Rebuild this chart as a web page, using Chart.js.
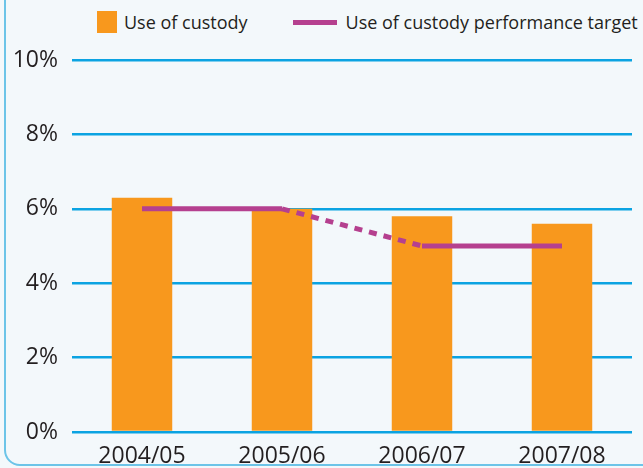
<!DOCTYPE html>
<html>
<head>
<meta charset="utf-8">
<script src="https://cdn.jsdelivr.net/npm/chart.js@4/dist/chart.umd.min.js"></script>
<style>
  html, body { margin: 0; padding: 0; background: #f3f8fb; overflow: hidden; }
  #wrap { position: relative; width: 643px; height: 468px; }
  #frame {
    position: absolute; left: 4px; top: -30px; width: 700px; height: 496px;
    border: 2px solid #6cc4e8; border-radius: 16px; box-sizing: border-box;
  }
  #legend {
    position: absolute; top: 8px; left: 97px; height: 28px;
    font-family: 'Open Sans', sans-serif; font-size: 18px; color: #231f20;
    display: flex; align-items: center; white-space: nowrap;
  }
  .sw-bar  { width: 20px; height: 22px; background: #f8981d; margin-right: 7px; }
  .sw-line { width: 44px; height: 5px; background: #b5408f; margin-left: 45px; margin-right: 9px; }
  canvas { position: absolute; left: 0; top: 0; }
</style>
</head>
<body>
<div id="wrap">
  <div id="frame"></div>
  <div id="legend">
    <span class="sw-bar"></span><span>Use of custody</span>
    <span class="sw-line"></span><span>Use of custody performance target</span>
  </div>
  <canvas id="custodyChart" width="643" height="468"></canvas>
</div>

<script>
// ─── Data ─────────────────────────────────────────────────────────
const YEARS   = ['2004/05', '2005/06', '2006/07', '2007/08'];
const CUSTODY = [6.3, 6.0, 5.8, 5.6];   // use of custody, %
const TARGET  = [6, 6, 5, 5];           // performance target, %
const Y_TICKS = [0, 2, 4, 6, 8, 10];

const ORANGE = '#f8981d';
const PLUM   = '#b5408f';
const BLUE   = '#0ba3e2';
const INK    = '#231f20';

Chart.defaults.font.family = "'Open Sans', sans-serif";
Chart.defaults.color = INK;

new Chart(document.getElementById('custodyChart'), {
    type: 'bar',
    data: {
        labels: YEARS,
        datasets: [
            {
                type: 'line',
                label: 'Use of custody performance target',
                data: TARGET,
                borderColor: PLUM,
                borderWidth: 5,
                pointRadius: 0,
                tension: 0,
                // the 2005/06 → 2006/07 step is drawn dashed
                segment: {
                    borderDash: ctx => ctx.p0DataIndex === 1 ? [8, 7] : undefined
                },
                order: 0
            },
            {
                label: 'Use of custody',
                data: CUSTODY,
                backgroundColor: ORANGE,
                barPercentage: 0.6,
                categoryPercentage: 0.72,
                order: 1
            }
        ]
    },
    options: {
        responsive: false,
        animation: false,
        layout: { padding: { top: 60, right: 11, left: 0, bottom: 0 } },
        plugins: { legend: { display: false }, tooltip: { enabled: false } },
        scales: {
            x: {
                grid: { display: false },
                border: { display: false },
                ticks: { font: { size: 23 }, padding: 3 },
                afterFit: s => { s.height = 36; }
            },
            y: {
                min: 0,
                max: 10,
                afterBuildTicks: s => { s.ticks = Y_TICKS.map(v => ({ value: v })); },
                ticks: { font: { size: 23 }, padding: 14, callback: v => v + '%' },
                grid: { color: BLUE, lineWidth: 2.5, drawTicks: false },
                border: { display: false },
                afterFit: s => { s.width = 72; }
            }
        }
    }
});
</script>
</body>
</html>
